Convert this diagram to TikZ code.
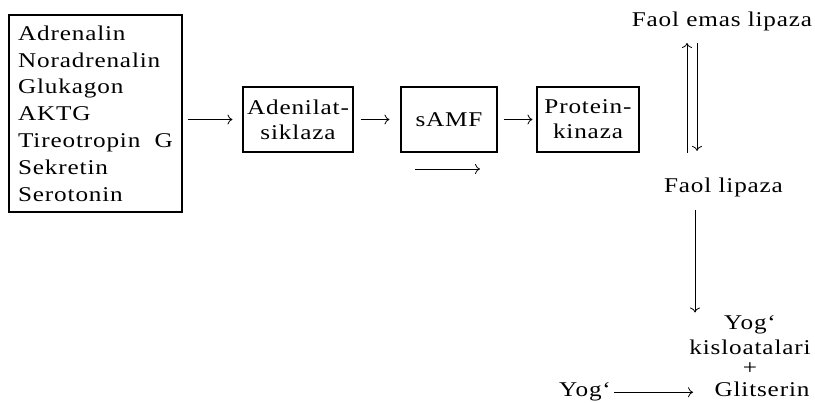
\documentclass[tikz,border=0pt]{standalone}
\usepackage{fontspec}
\setmainfont{Liberation Serif}[FakeStretch=1.2,LetterSpace=4]
\usetikzlibrary{arrows.meta,positioning}

\begin{document}
\begin{tikzpicture}[x=1pt, y=-1pt, >={To[length=5pt,width=10pt]},
  font=\fontsize{21}{25}\selectfont,
  box/.style={draw, line width=1.1pt, align=center, inner sep=0pt},
  conn/.style={->, line width=0.8pt}]
  \useasboundingbox (0,0) rectangle (815,403);
  % hormones
  \node[box, align=left, minimum width=173, minimum height=197,
        font=\fontsize{21}{26.8}\selectfont] (horm) at (95.5,113.5)
    {Adrenalin\\Noradrenalin\\Glukagon\\AKTG\\Tireotropin~~G\\Sekretin\\Serotonin};
  % cascade
  \node[box, minimum width=110, minimum height=65] (aden) at (298,119.5) {Adenilat-\\siklaza};
  \node[box, minimum width=96, minimum height=65] (samf) at (449,119.5) {sAMF};
  \node[box, minimum width=102, minimum height=65] (prot) at (588,119.5) {Protein-\\kinaza};
  \draw[conn, shorten <=5pt, shorten >=10pt] (horm.east |- aden.west) -- (aden.west);
  \draw[conn, shorten <=7pt, shorten >=11pt] (aden) -- (samf);
  \draw[conn, shorten <=6pt, shorten >=4pt] (samf) -- (prot);
  \coordinate (u1) at (415,169);
  \coordinate (u2) at (480,169);
  \draw[conn] (u1) -- (u2);
  % lipase
  \node[anchor=base] (inact) at (722,27) {Faol emas lipaza};
  \node[anchor=base] (act) at (723.5,193) {Faol lipaza};
  \coordinate (upA) at ([xshift=-36.5pt]act.north);
  \coordinate (dnA) at ([xshift=-26.5pt]act.north);
  \draw[conn, shorten <=22pt, shorten >=8pt] (upA) -- (upA |- inact.south);
  \draw[conn, shorten <=8pt, shorten >=24pt] (dnA |- inact.south) -- (dnA);
  % products
  \node[anchor=base] (fa1) at (750,330) {Yog‘};
  \node[anchor=base] (fa2) at (750,355) {kisloatalari};
  \node[anchor=base] (plus) at (750,375) {+};
  \node[anchor=base] (gly) at (762,397) {Glitserin};
  \node[anchor=base] (fat) at (585,397) {Yog‘};
  \coordinate (hyd) at ([xshift=-28.5pt]act.south);
  \draw[conn, shorten <=9pt] (hyd) -- (hyd |- fa1.north);
  \draw[conn, shorten >=18pt] (fat.east) -- (fat.east -| gly.west);
\end{tikzpicture}
\end{document}
